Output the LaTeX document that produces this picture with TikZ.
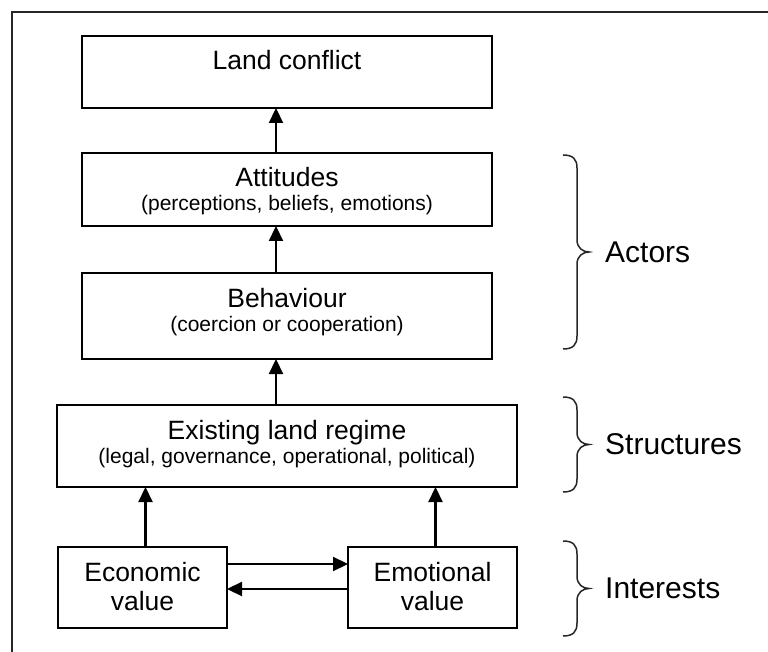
\documentclass[tikz,border=0pt]{standalone}
\usepackage{fontspec}
\setmainfont{Liberation Sans}
\usetikzlibrary{arrows.meta,positioning}

% right curly brace: x, top y, bottom y
\newcommand{\curly}[3]{%
  \draw[brace] (#1,#2) .. controls ({#1+10},#2) and ({#1+14},{#2+4}) .. ({#1+14},{#2+13})
    -- ({#1+14},{(#2+#3)/2-12})
    .. controls ({#1+14},{(#2+#3)/2-4}) and ({#1+20},{(#2+#3)/2}) .. ({#1+26},{(#2+#3)/2})
    .. controls ({#1+20},{(#2+#3)/2}) and ({#1+14},{(#2+#3)/2+4}) .. ({#1+14},{(#2+#3)/2+12})
    -- ({#1+14},{#3-13})
    .. controls ({#1+14},{#3-4}) and ({#1+10},#3) .. (#1,#3);}

\begin{document}
\begin{tikzpicture}[
    x=1pt, y=-1pt,
    node distance=45pt,
    box/.style={rectangle, draw, line width=2.4pt, minimum width=410pt, minimum height=72pt, inner sep=0pt, outer sep=0pt},
    widebox/.style={box, minimum width=460pt, minimum height=82pt},
    smallbox/.style={box, minimum width=169pt, minimum height=81pt},
    title/.style={anchor=base, inner sep=0pt, font=\fontsize{26.5}{30}\selectfont},
    sub/.style={anchor=base, inner sep=0pt, font=\fontsize{21}{24}\selectfont},
    bracetext/.style={anchor=west, inner sep=0pt, font=\fontsize{30}{34}\selectfont},
    arrow/.style={-{Triangle[length=15pt,width=14pt]}, line width=2.2pt},
    brace/.style={line width=1.5pt, black!85}
]
    \useasboundingbox (0,0) rectangle (768,652);
    % Frame
    \draw[line width=2pt, black!85] (768,12) -- (11.5,12) -- (11.5,652);

    % Nodes
    \node[box] (conflict) at (287,72) {};
    \node[box, minimum height=73pt, below=of conflict] (attitudes) {};
    \node[box, minimum height=86pt, below=47pt of attitudes] (behaviour) {};
    \node[widebox, below=46pt of behaviour] (regime) {};
    \node[smallbox, below right=60pt and 1pt of regime.south west] (economic) {};
    \node[smallbox, right=121pt of economic] (emotional) {};

    % Texts
    \node[title] (conflict-t) at ([yshift=-34pt]conflict.north) {Land conflict};
    \node[title] (attitudes-t) at ([yshift=-34pt]attitudes.north) {Attitudes};
    \node[sub] (attitudes-s) at ([yshift=-58pt]attitudes.north) {(perceptions, beliefs, emotions)};
    \node[title] (behaviour-t) at ([yshift=-34pt]behaviour.north) {Behaviour};
    \node[sub] (behaviour-s) at ([yshift=-58pt]behaviour.north) {(coercion or cooperation)};
    \node[title] (regime-t) at ([yshift=-34pt]regime.north) {Existing land regime};
    \node[sub] (regime-s) at ([yshift=-58pt]regime.north) {(legal, governance, operational, political)};
    \node[title] (economic-t) at ([yshift=-34pt]economic.north) {Economic};
    \node[title] (economic-s) at ([yshift=-63pt]economic.north) {value};
    \node[title] (emotional-t) at ([yshift=-34pt]emotional.north) {Emotional};
    \node[title] (emotional-s) at ([yshift=-63pt]emotional.north) {value};

    % Arrows
    \draw[arrow] ([xshift=-11pt]attitudes.north) -- ([xshift=-11pt]conflict.south);
    \draw[arrow] ([xshift=-11pt]behaviour.north) -- ([xshift=-11pt]attitudes.south);
    \draw[arrow] ([xshift=-11pt]regime.north) -- ([xshift=-11pt]behaviour.south);
    \draw[arrow] ([xshift=3pt]economic.north) -- ([xshift=3pt]economic.north |- regime.south);
    \draw[arrow] ([xshift=3pt]emotional.north) -- ([xshift=3pt]emotional.north |- regime.south);
    \draw[arrow] ([yshift=-17pt]economic.north east) -- ([yshift=-17pt]emotional.north west);
    \draw[arrow] ([yshift=-42pt]emotional.north west) -- ([yshift=-42pt]economic.north east);

    % Braces
    \curly{563}{155}{349}
    \curly{563}{397}{492}
    \curly{563}{541}{636}
    \node[bracetext] (actors) at (605,252) {Actors};
    \node[bracetext] (structures) at (605,444) {Structures};
    \node[bracetext] (interests) at (605,588) {Interests};
\end{tikzpicture}
\end{document}
